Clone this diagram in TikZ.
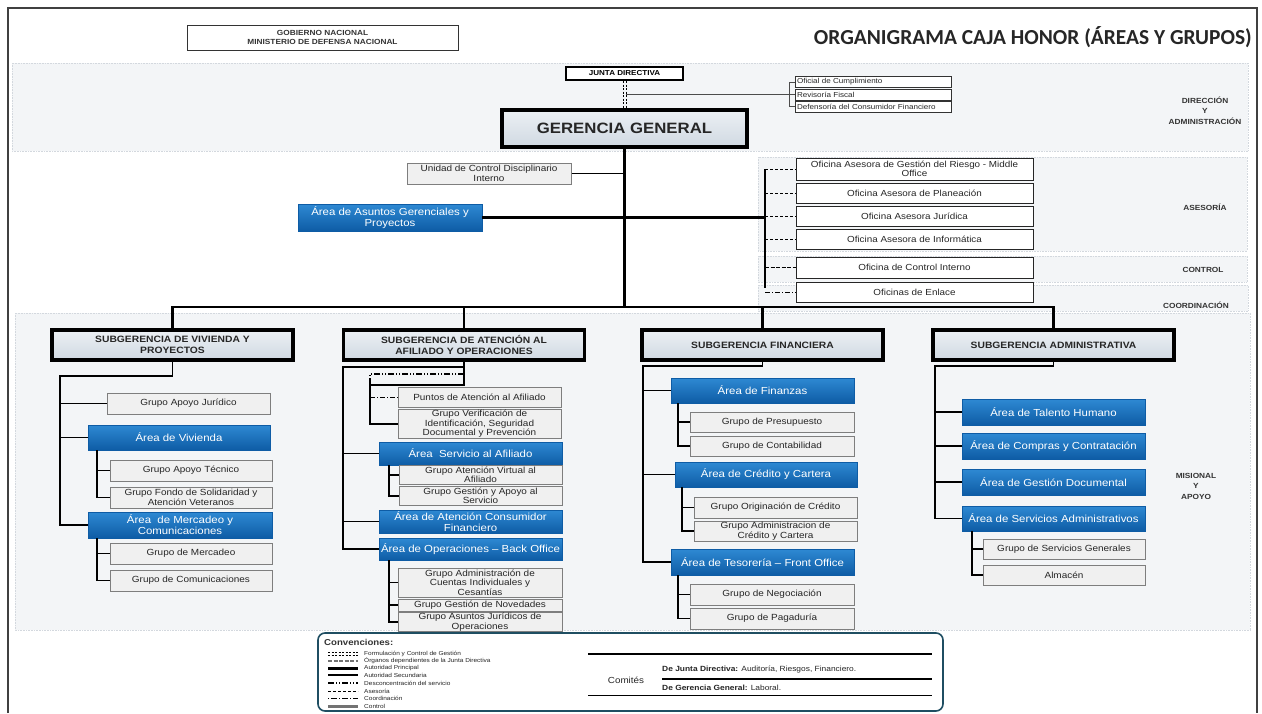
\documentclass[tikz,border=0pt]{standalone}
\usepackage{fontspec}
\setmainfont{Liberation Sans}[FakeStretch=1.12]
\newfontfamily\titlefont{Carlito}
\usetikzlibrary{shadows}

\definecolor{bandfill}{HTML}{F3F5F7}
\definecolor{bandline}{HTML}{D3D8DE}
\definecolor{azulsup}{HTML}{2E89D3}
\definecolor{azulinf}{HTML}{0E5CA5}
\definecolor{grisgrp}{HTML}{F0F0F0}
\definecolor{grisbord}{HTML}{7E7E7E}
\definecolor{subsup}{HTML}{ECF0F4}
\definecolor{subinf}{HTML}{D0D9E2}
\definecolor{conv}{HTML}{1F4E62}
\definecolor{texto}{HTML}{262626}

\tikzset{
  band/.style={fill=bandfill, draw=bandline, densely dotted, line width=0.6pt},
  grp/.style={draw=grisbord, fill=grisgrp, line width=1pt, text=texto, align=center,
    inner sep=1pt, minimum width=163pt, minimum height=21pt,
    font=\fontsize{8.9}{9.4}\selectfont,
    drop shadow={shadow xshift=0.8pt, shadow yshift=-0.8pt, opacity=0.25}},
  area/.style={top color=azulsup, bottom color=azulinf, draw=azulinf, line width=0.4pt,
    text=white, align=center, inner sep=1pt, minimum width=183pt, minimum height=25pt,
    font=\fontsize{10.2}{11}\selectfont,
    drop shadow={shadow xshift=1pt, shadow yshift=-1.2pt, opacity=0.3}},
  subg/.style={draw=black, line width=3.4pt, top color=subsup, bottom color=subinf,
    align=center, minimum width=241pt, minimum height=30pt, inner sep=1pt,
    font=\bfseries\fontsize{9.2}{10.5}\selectfont, text=texto},
  ofi/.style={draw=black!85, fill=white, line width=0.8pt, text=texto, align=center,
    inner sep=1pt, minimum width=237pt, minimum height=20pt,
    font=\fontsize{8.8}{9}\selectfont},
  peq/.style={draw=black!80, fill=white, line width=0.7pt, text=texto, align=left,
    inner xsep=2pt, inner ysep=0pt, text width=152pt, minimum height=11pt,
    font=\fontsize{7.2}{7.4}\selectfont},
  etiq/.style={font=\bfseries\fontsize{7.4}{10.5}\selectfont, text=black!80, align=center},
  leyenda/.style={anchor=west, inner sep=0pt, text=texto, font=\fontsize{5.8}{6}\selectfont},
  principal/.style={line width=2.8pt},
  secund/.style={line width=1.6pt},
  asesor/.style={line width=0.8pt, dash pattern=on 3pt off 2pt},
  control/.style={line width=1.8pt, dash pattern=on 4pt off 1.5pt},
  coordin/.style={line width=0.9pt, dash pattern=on 5pt off 2pt on 1pt off 2pt},
  desconc/.style={line width=1.2pt, dash pattern=on 6pt off 2pt on 1pt off 2pt on 1pt off 2pt},
  formul/.style={line width=0.9pt, dash pattern=on 2pt off 1.5pt},
  organo/.style={line width=1.5pt, black!55, dash pattern=on 4pt off 1.5pt},
}

\begin{document}
\begin{tikzpicture}[x=1pt,y=-1pt]
	\useasboundingbox (0,0) rectangle (1262,713);
	\draw[line width=1.4pt, black!75] (8,713) -- (8,8) -- (1257,8) -- (1257,713);

	% franjas de fondo
	\path[band] (12,63) rectangle (1248,151);
	\path[band] (758,157) rectangle (1247,251);
	\path[band] (758,256) rectangle (1247,282);
	\path[band] (758,285) rectangle (1248,311);
	\path[band] (15,313) rectangle (1250,630);

	% encabezado
	\node[draw=black!80, line width=0.8pt, fill=white, align=center, minimum width=271pt,
		minimum height=25pt, inner sep=0pt, text=black!80,
		font=\bfseries\fontsize{7.4}{8.6}\selectfont] (gob) at (322.5,37.5)
		{GOBIERNO NACIONAL\\MINISTERIO DE DEFENSA NACIONAL};
	\node[anchor=east, inner sep=0pt, text=black!85, font=\titlefont\bfseries\fontsize{21.4}{23}\selectfont]
		(titulo) at (1252,37) {ORGANIGRAMA CAJA HONOR (ÁREAS Y GRUPOS)};

	% direccion y administracion
	\node[draw=black, line width=2.2pt, fill=white, minimum width=117pt, minimum height=13pt,
		inner sep=0pt, font=\bfseries\fontsize{7.2}{8}\selectfont] (junta) at (624.5,73.5) {JUNTA DIRECTIVA};
	\node[draw=black, line width=3.6pt, top color=subsup, bottom color=subinf, minimum width=245pt,
		minimum height=37pt, inner sep=0pt, text=texto, font=\bfseries\fontsize{15}{16}\selectfont]
		(gg) at (624.5,128.5) {GERENCIA GENERAL};
	\node[peq] (ofc) at (873,82) {Oficial de Cumplimiento};
	\node[peq] (rev) at (873,94.5) {Revisoría Fiscal};
	\node[peq] (def) at (873,106.5) {Defensoría del Consumidor Financiero};
	\draw[formul] ([xshift=-1.5pt]junta.south) -- ([xshift=-1.5pt]gg.north);
	\draw[formul] ([xshift=1.5pt]junta.south) -- ([xshift=1.5pt]gg.north);
	\coordinate (jg) at (626,94.5);
	\draw[line width=1.1pt, black!70] (jg) -- (rev.west);
	\draw[line width=0.8pt, black!70] (ofc.west) -- ++(-5,0) |- (def.west);
	\node[etiq] (dir) at (1205,110.5) {DIRECCIÓN\\Y\\ADMINISTRACIÓN};

	% asesoria, control y coordinacion
	\node[grp, minimum width=164pt] (ucd) at (489,173.5) {Unidad de Control Disciplinario\\Interno};
	\node[area, minimum width=184pt, minimum height=27pt] (aag) at (390,217.5)
		{Área de Asuntos Gerenciales y\\Proyectos};
	\node[ofi, minimum height=22pt] (rie) at (914.5,169) {Oficina Asesora de Gestión del Riesgo - Middle\\Office};
	\node[ofi] (pla) at (914.5,193) {Oficina Asesora de Planeación};
	\node[ofi] (jur) at (914.5,216) {Oficina Asesora Jurídica};
	\node[ofi] (inf) at (914.5,239) {Oficina Asesora de Informática};
	\node[ofi, minimum height=21pt] (oci) at (914.5,267.5) {Oficina de Control Interno};
	\node[ofi] (enl) at (914.5,292) {Oficinas de Enlace};
	\node[etiq] (ase) at (1205,207) {ASESORÍA};
	\node[etiq] (ctl) at (1203,270) {CONTROL};
	\node[etiq] (coo) at (1196,305) {COORDINACIÓN};

	\coordinate (bus) at (624.5,307);
	\coordinate (brk) at (765,169);
	\draw[principal] (gg.south) -- (bus);
	\draw[secund] (ucd.east) -- (ucd.east -| gg.south);
	\draw[principal] (aag.east) -- (aag.east -| brk);
	\draw[principal] (brk) -- ([yshift=4pt]enl.west -| brk);
	\draw[asesor] (brk |- rie.west) -- (rie.west);
	\draw[asesor] (brk |- pla.west) -- (pla.west);
	\draw[asesor] (brk |- jur.west) -- (jur.west);
	\draw[asesor] (brk |- inf.west) -- (inf.west);
	\draw[control] (brk |- oci.west) -- (oci.west);
	\draw[coordin] (brk |- enl.west) -- (enl.west);

	% subgerencias
	\node[subg] (sv) at (172.5,345) {SUBGERENCIA DE VIVIENDA Y\\PROYECTOS};
	\node[subg] (sat) at (464,345) {SUBGERENCIA DE ATENCIÓN AL\\AFILIADO Y OPERACIONES};
	\node[subg] (sf) at (762.5,345) {SUBGERENCIA FINANCIERA};
	\node[subg] (sa) at (1053.5,345) {SUBGERENCIA ADMINISTRATIVA};
	\draw[principal] (sv.north) |- (bus) -| (sa.north);
	\draw[principal] (sat.north) -- (sat.north |- bus);
	\draw[principal] (sf.north) -- (sf.north |- bus);

	% vivienda y proyectos
	\node[grp] (gaj) at (188.5,403.5) {Grupo Apoyo Jurídico};
	\node[area, minimum width=182pt] (viv) at (179,437.5) {Área de Vivienda};
	\node[grp, minimum width=162pt] (gat) at (191,470.5) {Grupo Apoyo Técnico};
	\node[grp, minimum width=162pt] (gfs) at (191,497.5) {Grupo Fondo de Solidaridad y\\Atención Veteranos};
	\node[area, minimum width=184pt, minimum height=26pt] (mer) at (180,525) {Área\ \ de Mercadeo y\\Comunicaciones};
	\node[grp, minimum width=162pt] (gme) at (191,553.5) {Grupo de Mercadeo};
	\node[grp, minimum width=162pt] (gco) at (191,580.5) {Grupo de Comunicaciones};
	\coordinate (t1) at (60,376);
	\draw[secund] (sv.south) |- (t1) |- (mer.west);
	\draw[secund] (t1 |- gaj.west) -- (gaj.west);
	\draw[secund] (t1 |- viv.west) -- (viv.west);
	\coordinate (v1) at ([xshift=9pt]viv.south west);
	\draw[secund] (v1) |- (gfs.west);
	\draw[secund] (v1 |- gat.west) -- (gat.west);
	\coordinate (v2) at ([xshift=9pt]mer.south west);
	\draw[secund] (v2) |- (gco.west);
	\draw[secund] (v2 |- gme.west) -- (gme.west);

	% atencion al afiliado y operaciones
	\node[grp, minimum height=20pt] (pat) at (479.5,397) {Puntos de Atención al Afiliado};
	\node[grp, minimum height=28pt] (gvi) at (479.5,424) {Grupo Verificación de\\Identificación, Seguridad\\Documental y Prevención};
	\node[area, minimum height=23pt] (asa) at (470.5,453.5) {Área\ \ Servicio al Afiliado};
	\node[grp, minimum height=18pt] (gav) at (480.5,475) {Grupo Atención Virtual al\\Afiliado};
	\node[grp, minimum height=18pt] (gga) at (480.5,496) {Grupo Gestión y Apoyo al\\Servicio};
	\node[area, minimum height=23pt] (acf) at (470.5,521.5) {Área de Atención Consumidor\\Financiero};
	\node[area, minimum height=22pt] (ope) at (470.5,549) {Área de Operaciones -- Back Office};
	\node[grp, minimum width=164pt, minimum height=29pt] (gac) at (480,582.5) {Grupo Administración de\\Cuentas Individuales y\\Cesantías};
	\node[grp, minimum width=164pt, minimum height=12pt] (ggn) at (480,605) {Grupo Gestión de Novedades};
	\node[grp, minimum width=164pt, minimum height=18pt] (gao) at (480,622) {Grupo Asuntos Jurídicos de\\Operaciones};
	\coordinate (t2) at (343,367);
	\draw[secund] (sat.south) |- (t2) |- (ope.west);
	\draw[secund] (t2 |- asa.west) -- (asa.west);
	\draw[secund] (t2 |- acf.west) -- (acf.west);
	\coordinate (d1) at (464,374);
	\coordinate (d2) at (370,374);
	\coordinate (d3) at (464,385);
	\coordinate (d4) at (370,385);
	\draw[secund] (sat.south) -- (d3) -- (d4) |- (gvi.west);
	\draw[desconc] (d1) -- (d2) -- (d4);
	\draw[coordin] (d4 |- pat.west) -- (pat.west);
	\coordinate (v3) at ([xshift=10pt]asa.south west);
	\draw[secund] (v3) |- (gga.west);
	\draw[secund] (v3 |- gav.west) -- (gav.west);
	\coordinate (v4) at ([xshift=10pt]ope.south west);
	\draw[secund] (v4) |- (gao.west);
	\draw[secund] (v4 |- gac.west) -- (gac.west);
	\draw[secund] (v4 |- ggn.west) -- (ggn.west);

	% financiera
	\node[area] (fin) at (762.5,390.5) {Área de Finanzas};
	\node[grp, minimum width=164pt, minimum height=20pt] (gpr) at (772,422) {Grupo de Presupuesto};
	\node[grp, minimum width=164pt, minimum height=20pt] (gct) at (772,446) {Grupo de Contabilidad};
	\node[area, minimum width=182pt] (cre) at (766,474.5) {Área de Crédito y Cartera};
	\node[grp] (gor) at (775.5,507.5) {Grupo Originación de Crédito};
	\node[grp, minimum height=20pt] (gad) at (775.5,531) {Grupo Administracion de\\Crédito y Cartera};
	\node[area, minimum height=26pt] (tes) at (762.5,562) {Área de Tesorería -- Front Office};
	\node[grp, minimum width=164pt] (gne) at (772,594.5) {Grupo de Negociación};
	\node[grp, minimum width=164pt] (gpa) at (772,618.5) {Grupo de Pagaduría};
	\coordinate (t3) at (643,366);
	\draw[secund] (sf.south) |- (t3) |- (tes.west);
	\draw[secund] (t3 |- fin.west) -- (fin.west);
	\draw[secund] (t3 |- cre.west) -- (cre.west);
	\coordinate (v5) at ([xshift=7pt]fin.south west);
	\draw[secund] (v5) |- (gct.west);
	\draw[secund] (v5 |- gpr.west) -- (gpr.west);
	\coordinate (v6) at ([xshift=7pt]cre.south west);
	\draw[secund] (v6) |- (gad.west);
	\draw[secund] (v6 |- gor.west) -- (gor.west);
	\coordinate (v7) at ([xshift=7pt]tes.south west);
	\draw[secund] (v7) |- (gpa.west);
	\draw[secund] (v7 |- gne.west) -- (gne.west);

	% administrativa
	\node[area, minimum height=26pt] (tal) at (1053.5,412) {Área de Talento Humano};
	\node[area, minimum height=26pt] (com) at (1053.5,446) {Área de Compras y Contratación};
	\node[area, minimum height=26pt] (gdo) at (1053.5,482) {Área de Gestión Documental};
	\node[area] (sad) at (1053.5,518.5) {Área de Servicios Administrativos};
	\node[grp, minimum width=162pt, minimum height=20pt] (gsg) at (1064,549) {Grupo de Servicios Generales};
	\node[grp, minimum width=162pt, minimum height=20pt] (alm) at (1064,575) {Almacén};
	\coordinate (t4) at (935,366);
	\draw[secund] (sa.south) |- (t4) |- (sad.west);
	\draw[secund] (t4 |- tal.west) -- (tal.west);
	\draw[secund] (t4 |- com.west) -- (com.west);
	\draw[secund] (t4 |- gdo.west) -- (gdo.west);
	\coordinate (v8) at ([xshift=10pt]sad.south west);
	\draw[secund] (v8) |- (alm.west);
	\draw[secund] (v8 |- gsg.west) -- (gsg.west);
	\node[etiq] (mis) at (1196,486) {MISIONAL\\Y\\APOYO};

	% convenciones
	\draw[conv, line width=1.6pt, fill=white, rounded corners=7pt] (318,633) rectangle (943,711);
	\node[anchor=west, inner sep=0pt, text=black!80, font=\bfseries\fontsize{8.6}{9}\selectfont]
		(convt) at (324,642) {Convenciones:};
	\draw[formul] (328,652.8) -- (358,652.8);
	\draw[formul] (328,655.4) -- (358,655.4);
	\node[leyenda] (l1) at (364,653.5) {Formulación y Control de Gestión};
	\draw[organo] (328,661) -- (358,661);
	\node[leyenda] (l2) at (364,660.5) {Órganos dependientes de la Junta Directiva};
	\draw[line width=3pt] (328,668) -- (358,668);
	\node[leyenda] (l3) at (364,668) {Autoridad Principal};
	\draw[line width=1.8pt] (328,675) -- (358,675);
	\node[leyenda] (l4) at (364,675) {Autoridad Secundaria};
	\draw[desconc] (328,683) -- (358,683);
	\node[leyenda] (l5) at (364,683) {Desconcentración del servicio};
	\draw[asesor] (328,691.5) -- (358,691.5);
	\node[leyenda] (l6) at (364,691.5) {Asesoría};
	\draw[line width=0.9pt, dash pattern=on 1pt off 2pt on 6pt off 2pt] (328,698.5) -- (358,698.5);
	\node[leyenda] (l7) at (364,698.5) {Coordinación};
	\draw[line width=3pt, black!55] (328,706.5) -- (358,706.5);
	\node[leyenda] (l8) at (364,706) {Control};

	\node[inner sep=0pt, text=texto, font=\fontsize{8.8}{9}\selectfont] (comi) at (626,680) {Comités};
	\node[anchor=west, inner sep=0pt, text=texto, font=\fontsize{7.5}{8}\selectfont] (cjd) at (662,669.5)
		{\textbf{De Junta Directiva:} Auditoría, Riesgos, Financiero.};
	\node[anchor=west, inner sep=0pt, text=texto, font=\fontsize{7.5}{8}\selectfont] (cgg) at (662,687.5)
		{\textbf{De Gerencia General:} Laboral.};
	\draw[line width=1.8pt] (588,654) -- (932,654);
	\draw[line width=1.8pt] (cjd.south west |- 0,679) -- (932,679);
	\draw[line width=0.8pt] (588,695) -- (932,695);
\end{tikzpicture}
\end{document}
